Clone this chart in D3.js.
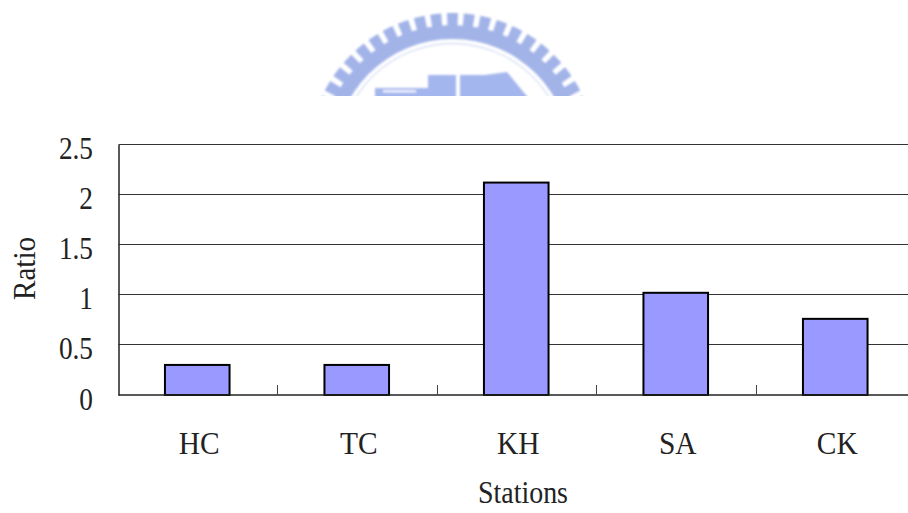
<!DOCTYPE html>
<html>
<head>
<meta charset="utf-8">
<script src="https://cdn.jsdelivr.net/npm/d3@7/dist/d3.min.js"></script>
<style>
  html, body { margin: 0; padding: 0; background: #fff; overflow: hidden; }
  text { font-family: "Liberation Serif", serif; fill: #222; }
</style>
</head>
<body>
<svg id="chart" width="908" height="513"></svg>
<script>
const stations = ["HC", "TC", "KH", "SA", "CK"];
const ratios = [0.3, 0.3, 2.12, 1.02, 0.76];
const yTicks = [0, 0.5, 1, 1.5, 2, 2.5];

const axisX = 118.5, bandStart = 117.5, bandEnd = 915, plotTop = 144.5, plotBottom = 395;
const fontSize = 31;
const svg = d3.select("#chart");

const x = d3.scaleBand().domain(stations).range([bandStart, bandEnd]).paddingInner(0.595).paddingOuter(0.2975);
const xEdges = d3.scalePoint().domain(d3.range(stations.length + 1)).range([bandStart, bandEnd]);
const y = d3.scaleLinear().domain([0, 2.5]).range([plotBottom, plotTop]);

const defs = svg.append("defs");
defs.append("clipPath").attr("id", "sealClip")
  .append("rect").attr("x", 300).attr("y", 0).attr("width", 300).attr("height", 96);
defs.append("filter").attr("id", "soft").append("feGaussianBlur").attr("stdDeviation", 1);

// University seal above the chart, showing only its upper part
const seal = svg.append("g").attr("clip-path", "url(#sealClip)").append("g").attr("filter", "url(#soft)");
const sealColor = "#a2b3e8";
const cx = 452.5, cy = 157;
const arc = d3.arc();
seal.append("path")
  .attr("transform", `translate(${cx},${cy})`)
  .attr("fill", sealColor)
  .attr("d", arc({innerRadius: 118, outerRadius: 132, startAngle: -Math.PI / 2, endAngle: Math.PI / 2}));
const toothAngles = d3.range(-15, 16).map(i => i * 6.7);
seal.append("g").attr("transform", `translate(${cx},${cy})`)
  .selectAll("path").data(toothAngles).join("path")
  .attr("fill", sealColor)
  .attr("d", a => arc({
    innerRadius: 130, outerRadius: 144,
    startAngle: (a - 2.2) * Math.PI / 180, endAngle: (a + 2.2) * Math.PI / 180
  }));
seal.append("path")
  .attr("transform", `translate(${cx},${cy})`)
  .attr("fill", "#c6d1f0")
  .attr("d", arc({innerRadius: 113, outerRadius: 114, startAngle: -Math.PI / 2, endAngle: Math.PI / 2}));
// Building silhouette inside the ring
seal.append("path").attr("fill", "#a4b6ee")
  .attr("d", "M375,88H428V75H456V100H375Z");
seal.append("path").attr("fill", "#a4b6ee")
  .attr("d", "M460,75H485L507,72L530,100H460Z");
seal.append("path").attr("fill", "#eef1fb").attr("d", "M383,90H416V92.5H383Z");

// Horizontal gridlines
svg.append("g").selectAll("line").data(yTicks.filter(d => d > 0)).join("line")
  .attr("x1", axisX).attr("x2", 908)
  .attr("y1", d => Math.round(y(d)) - 0.5).attr("y2", d => Math.round(y(d)) - 0.5)
  .attr("stroke", "#333").attr("stroke-width", 1);

// Bars
svg.append("g").selectAll("rect").data(stations).join("rect")
  .attr("x", d => x(d))
  .attr("width", x.bandwidth())
  .attr("y", (d, i) => y(ratios[i]))
  .attr("height", (d, i) => plotBottom - y(ratios[i]))
  .attr("fill", "#9999ff")
  .attr("stroke", "#000")
  .attr("stroke-width", 2);

// Value axis, with labels narrowed to the condensed look of the serif face
const yAxis = d3.axisLeft(y).tickValues(yTicks).tickFormat(d3.format("~g")).tickSize(0);
const yG = svg.append("g").attr("transform", `translate(${axisX},0)`).call(yAxis);
yG.select(".domain").attr("stroke", "#222").attr("stroke-width", 1.5);
yG.selectAll("text")
  .attr("x", 0).attr("dy", 0)
  .attr("font-size", fontSize).attr("font-family", "Liberation Serif")
  .attr("fill", "#222")
  .attr("transform", "translate(-25.5,14) scale(0.88,1)");

// Baseline with category separators
const baseline = svg.append("g");
baseline.append("line").attr("x1", axisX).attr("x2", 908).attr("y1", plotBottom).attr("y2", plotBottom)
  .attr("stroke", "#222").attr("stroke-width", 1.5);
baseline.selectAll("line.tick").data(d3.range(1, stations.length)).join("line")
  .attr("class", "tick")
  .attr("x1", d => Math.round(xEdges(d)) + 0.5).attr("x2", d => Math.round(xEdges(d)) + 0.5)
  .attr("y1", plotBottom - 10).attr("y2", plotBottom)
  .attr("stroke", "#444").attr("stroke-width", 1);

svg.append("g").selectAll("text").data(stations).join("text")
  .attr("transform", d => `translate(${x(d) + x.bandwidth() / 2 + 2},454) scale(0.95,1)`)
  .attr("text-anchor", "middle")
  .attr("font-size", fontSize)
  .text(d => d);

svg.append("text").attr("transform", "translate(523,503) scale(0.9,1)")
  .attr("text-anchor", "middle").attr("font-size", fontSize).text("Stations");

svg.append("text")
  .attr("transform", "translate(35,268.5) rotate(-90) scale(0.94,1)")
  .attr("text-anchor", "middle").attr("font-size", fontSize).text("Ratio");
</script>
</body>
</html>
